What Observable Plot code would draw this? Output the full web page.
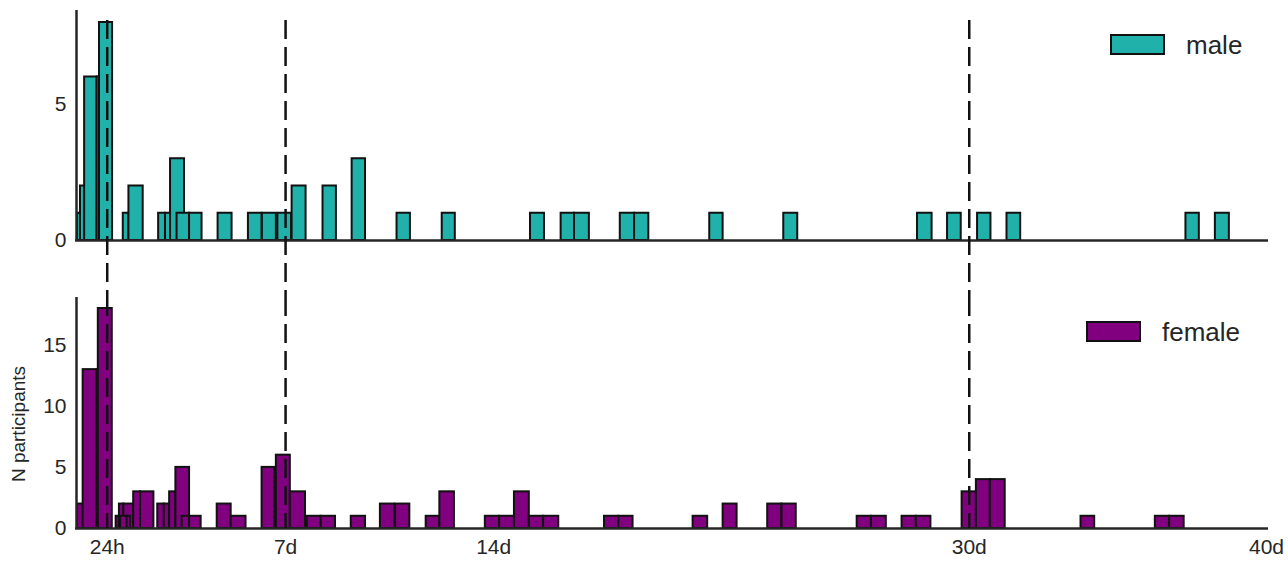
<!DOCTYPE html>
<html>
<head>
<meta charset="utf-8">
<script src="https://cdn.jsdelivr.net/npm/d3@7"></script>
<script src="https://cdn.jsdelivr.net/npm/@observablehq/plot@0.6"></script>
<style>
  body { margin: 0; background: #fff; }
  #chart { position: relative; width: 1288px; height: 561px; font-family: "Liberation Sans", Arial, sans-serif; color: #262626; }
  #chart svg { position: absolute; left: 0; }
  .sw { position: absolute; box-sizing: border-box; border: 2px solid #111; }
  .lab { position: absolute; font-size: 26px; line-height: 1; }
  .ylab { position: absolute; left: 18px; top: 424px; font-size: 19px; line-height: 1; white-space: nowrap;
          transform: translate(-50%, -50%) rotate(-90deg); }
</style>
</head>
<body>
<div id="chart"></div>
<script>
// histogram bins, in days: [start, end, count]
const maleBins = [
  [0.00, 0.10, 1], [0.10, 0.24, 2], [0.24, 0.66, 6], [0.66, 0.74, 6], [0.74, 1.18, 8],
  [1.54, 1.73, 1], [1.73, 2.21, 2], [2.73, 2.96, 1], [2.96, 3.13, 1], [3.13, 3.60, 3],
  [3.35, 3.77, 1], [3.77, 4.19, 1], [4.73, 5.20, 1], [5.75, 6.21, 1], [6.22, 6.69, 1],
  [6.74, 7.20, 1], [7.22, 7.69, 2], [8.26, 8.71, 2], [9.24, 9.69, 3], [10.75, 11.20, 1],
  [12.27, 12.71, 1], [15.24, 15.71, 1], [16.27, 16.72, 1], [16.72, 17.22, 1], [18.26, 18.74, 1],
  [18.74, 19.22, 1], [21.27, 21.72, 1], [23.76, 24.23, 1], [28.26, 28.75, 1], [29.27, 29.73, 1],
  [30.28, 30.73, 1], [31.27, 31.73, 1], [37.29, 37.74, 1], [38.28, 38.75, 1]
];
const femaleBins = [
  [0.00, 0.19, 2], [0.19, 0.66, 13], [0.66, 0.70, 13], [0.70, 1.17, 18], [1.30, 1.41, 1],
  [1.41, 1.56, 2], [1.56, 1.89, 2], [1.45, 1.67, 1], [1.67, 1.78, 1], [1.89, 2.12, 3],
  [2.12, 2.57, 3], [2.70, 2.92, 2], [2.92, 3.10, 2], [3.10, 3.31, 3], [3.31, 3.77, 5],
  [3.52, 3.77, 1], [3.77, 4.16, 1], [4.70, 5.17, 2], [5.17, 5.67, 1], [6.21, 6.63, 5],
  [6.69, 7.16, 6], [7.16, 7.67, 3], [7.73, 8.20, 1], [8.20, 8.68, 1], [9.21, 9.69, 1],
  [10.19, 10.67, 2], [10.70, 11.18, 2], [11.73, 12.19, 1], [12.19, 12.68, 3], [13.72, 14.20, 1],
  [14.20, 14.70, 1], [14.70, 15.20, 3], [15.20, 15.68, 1], [15.68, 16.19, 1], [17.73, 18.21, 1],
  [18.21, 18.69, 1], [20.71, 21.20, 1], [21.72, 22.19, 2], [23.22, 23.70, 2], [23.70, 24.18, 2],
  [26.23, 26.71, 1], [26.71, 27.21, 1], [27.74, 28.22, 1], [28.22, 28.71, 1], [29.76, 30.24, 3],
  [30.24, 30.71, 4], [30.71, 31.21, 4], [33.76, 34.22, 1], [36.26, 36.74, 1], [36.74, 37.23, 1]
];
const groups = ["male", "female"];
const groupColors = ["#20b2aa", "#800080"];
const markerDays = [1, 7, 30];
const xTicks = [1, 7, 14, 30, 40];
const xTickLabels = ["24h", "7d", "14d", "30d", "40d"];
const maleTicks = [0, 5];
const femaleTicks = [0, 5, 10, 15];

const toRows = bins => bins.map(([x0, x1, n]) => ({x0, x1, n}));
const font = '"Liberation Sans", Arial, sans-serif';
const ink = "#262626";

function panel(rows, color, opts) {
  return Plot.plot({
    width: 1288,
    height: opts.height,
    marginLeft: 77,
    marginRight: 22,
    marginTop: opts.marginTop,
    marginBottom: opts.marginBottom,
    style: {fontFamily: font, fontSize: "21px", color: ink, background: "transparent", overflow: "visible"},
    x: {domain: [0, 40], axis: null},
    y: {domain: opts.yDomain, axis: null},
    marks: [
      Plot.rect(rows, {x1: "x0", x2: "x1", y1: 0, y2: "n", fill: color, stroke: "#111", strokeWidth: 2, inset: 0}),
      Plot.ruleX([0], {stroke: ink, strokeWidth: 2.5, dx: -1}),
      Plot.ruleY([0], {stroke: ink, strokeWidth: 2.5, insetLeft: -2, insetRight: -2}),
      Plot.axisY({ticks: opts.yTicks, tickSize: 0, tickPadding: 11, fontSize: 21, label: null}),
      ...opts.extra,
      Plot.ruleX(markerDays, {stroke: "#111", strokeWidth: 2.5, strokeDasharray: "19,8",
        insetTop: opts.ruleTop, insetBottom: opts.ruleBottom})
    ]
  });
}

const chart = document.getElementById("chart");

const malePanel = panel(toRows(maleBins), groupColors[0], {
  height: 297, marginTop: 10, marginBottom: 57, yDomain: [0, 8.44], yTicks: maleTicks,
  ruleTop: 10, ruleBottom: -57, extra: []
});
malePanel.style.top = "0px";
chart.appendChild(malePanel);

const femalePanel = panel(toRows(femaleBins), groupColors[1], {
  height: 264, marginTop: 0, marginBottom: 33, yDomain: [0, 18.9], yTicks: femaleTicks,
  ruleTop: 0, ruleBottom: 0,
  extra: [
    Plot.axisX({ticks: xTicks, tickFormat: d => xTickLabels[xTicks.indexOf(d)], tickSize: 0, tickPadding: 11, fontSize: 21, label: null})
  ]
});
femalePanel.style.top = "297px";
chart.appendChild(femalePanel);

const ylab = document.createElement("div");
ylab.className = "ylab";
ylab.textContent = "N participants";
chart.appendChild(ylab);

// legends
const legendPos = [
  {sw: [1110, 34], lab: [1186, 32]},
  {sw: [1086, 321], lab: [1162, 319]}
];
groups.forEach((g, i) => {
  const sw = document.createElement("div");
  sw.className = "sw";
  sw.style.cssText = `left:${legendPos[i].sw[0]}px;top:${legendPos[i].sw[1]}px;width:55px;height:21px;background:${groupColors[i]}`;
  chart.appendChild(sw);
  const lab = document.createElement("div");
  lab.className = "lab";
  lab.style.cssText = `left:${legendPos[i].lab[0]}px;top:${legendPos[i].lab[1]}px`;
  lab.textContent = g;
  chart.appendChild(lab);
});
</script>
</body>
</html>
